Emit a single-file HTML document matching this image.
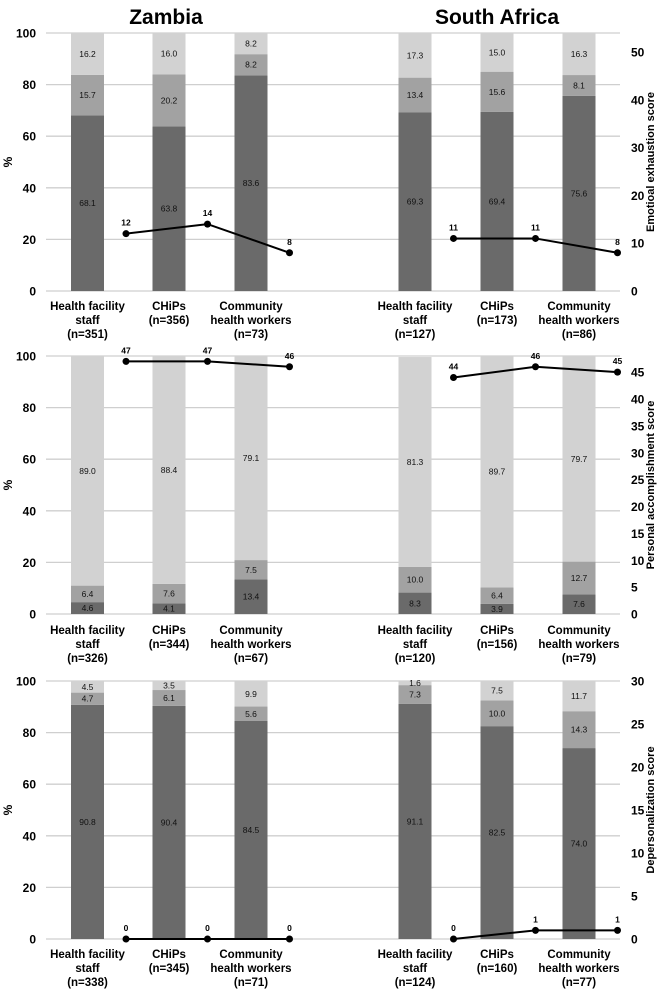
<!DOCTYPE html>
<html><head><meta charset="utf-8"><style>
html,body{margin:0;padding:0;background:#fff}
svg{display:block;font-family:"Liberation Sans",sans-serif}
</style></head><body>
<svg id="chart" width="661" height="992" viewBox="0 0 661 992" xmlns="http://www.w3.org/2000/svg">
<text x="166" y="24" font-size="21" font-weight="bold" text-anchor="middle">Zambia</text>
<text x="497" y="24" font-size="21" font-weight="bold" text-anchor="middle">South Africa</text>
</svg>
<script>
const groups = ["Health facility|staff", "CHiPs", "Community|health workers"];
// panel 1: emotional exhaustion
const p1Low = [68.1, 63.8, 83.6, 69.3, 69.4, 75.6];
const p1Mid = [15.7, 20.2, 8.2, 13.4, 15.6, 8.1];
const p1High = [16.2, 16.0, 8.2, 17.3, 15.0, 16.3];
const p1Score = [12, 14, 8, 11, 11, 8];
const p1N = ["351", "356", "73", "127", "173", "86"];
// panel 2: personal accomplishment
const p2Low = [4.6, 4.1, 13.4, 8.3, 3.9, 7.6];
const p2Mid = [6.4, 7.6, 7.5, 10.0, 6.4, 12.7];
const p2High = [89.0, 88.4, 79.1, 81.3, 89.7, 79.7];
const p2Score = [47, 47, 46, 44, 46, 45];
const p2N = ["326", "344", "67", "120", "156", "79"];
// panel 3: depersonalization
const p3Low = [90.8, 90.4, 84.5, 91.1, 82.5, 74.0];
const p3Mid = [4.7, 6.1, 5.6, 7.3, 10.0, 14.3];
const p3High = [4.5, 3.5, 9.9, 1.6, 7.5, 11.7];
const p3Score = [0, 0, 0, 0, 1, 1];
const p3N = ["338", "345", "71", "124", "160", "77"];
const leftTicks = [0, 20, 40, 60, 80, 100];

const svg = document.getElementById('chart');
const NS = 'http://www.w3.org/2000/svg';
function mk(tag, attrs, parent) {
  const e = document.createElementNS(NS, tag);
  for (const k in attrs) e.setAttribute(k, attrs[k]);
  (parent || svg).appendChild(e);
  return e;
}
const centers = [87.5, 169, 251, 415, 497, 579];
const barW = 33;
const colors = ['#6a6a6a', '#a2a2a2', '#d2d2d2'];

function panel(idx, top, bottom, low, mid, high, score, ns, rMax, rStep, rTitle, labelYs) {
  const y = v => bottom - (bottom - top) * v / 100;
  const yr = v => bottom - (bottom - top) * v / rMax;
  const g = mk('g', {});
  
  
  leftTicks.forEach(t => {
    const l = mk('line', {x1: 46, x2: 620, y1: y(t), y2: y(t), stroke: '#cfcfcf', 'stroke-width': 1.3}, g);
    
    
    const tx = mk('text', {x: 36, y: y(t) + 4.5, 'font-size': 12, 'font-weight': 'bold', 'text-anchor': 'end'}, g);
    tx.textContent = t;
    
    
  });
  for (let t = 0; t <= rMax + 0.001; t += rStep) {
    const tx = mk('text', {x: 631, y: yr(t) + 4.5, 'font-size': 12, 'font-weight': 'bold'}, g);
    tx.textContent = t;
    
    
  }
  const mY = (top + bottom) / 2;
  const yt = mk('text', {x: 12, y: mY, 'font-size': 12, 'font-weight': 'bold', 'text-anchor': 'middle', transform: `rotate(-90 12 ${mY})`}, g);
  yt.textContent = '%';
  
  
  const rt = mk('text', {x: 654, y: mY, 'font-size': 11, 'font-weight': 'bold', 'text-anchor': 'middle', transform: `rotate(-90 654 ${mY})`}, g);
  rt.textContent = rTitle;
  
  
  for (let i = 0; i < 6; i++) {
    const segs = [low[i], mid[i], high[i]];
    let acc = 0;
    segs.forEach((v, s) => {
      const r = mk('rect', {x: centers[i] - barW / 2, y: y(acc + v), width: barW, height: y(acc) - y(acc + v), fill: colors[s]}, g);
      
      
      const vy = v < 5 ? (y(acc) + y(acc + v)) / 2 + 3 : (y(acc) + y(acc + v)) / 2 + 3;
      const tx = mk('text', {x: centers[i], y: vy, 'font-size': 8.5, 'text-anchor': 'middle', fill: '#111'}, g);
      tx.textContent = v.toFixed(1);
      
      
      acc += v;
    });
    const parts = groups[i % 3].split('|');
    const lines = parts.concat(['(n=' + ns[i] + ')']);
    const ys = lines.length === 3 ? labelYs : [labelYs[0], labelYs[1]];
    lines.forEach((ln, k) => {
      const tx = mk('text', {x: centers[i], y: ys[k], 'font-size': 11.5, 'font-weight': 'bold', 'text-anchor': 'middle'}, g);
      tx.textContent = ln;
      
      
    });
  }
  [[0, 3], [3, 6]].forEach(([a, b]) => {
    const pts = [];
    for (let i = a; i < b; i++) pts.push([centers[i] + 38.5, yr(score[i])]);
    const pl = mk('polyline', {points: pts.map(p => p.join(',')).join(' '), fill: 'none', stroke: '#000', 'stroke-width': 2}, g);
    
    
    pts.forEach((p, k) => {
      const c = mk('circle', {cx: p[0], cy: p[1], r: 3.5, fill: '#000'}, g);
      
      
      const tx = mk('text', {x: p[0], y: p[1] - 8, 'font-size': 8.5, 'font-weight': 'bold', 'text-anchor': 'middle'}, g);
      tx.textContent = score[a + k];
      
      
    });
  });
}
panel(1, 33, 291, p1Low, p1Mid, p1High, p1Score, p1N, 54, 10, 'Emotioal exhaustion score', [310, 324, 338]);
panel(2, 356, 614, p2Low, p2Mid, p2High, p2Score, p2N, 48, 5, 'Personal accomplishment score', [634, 648, 662]);
panel(3, 681, 939, p3Low, p3Mid, p3High, p3Score, p3N, 30, 5, 'Depersonalization score', [958, 972, 986]);
</script>
</body></html>
